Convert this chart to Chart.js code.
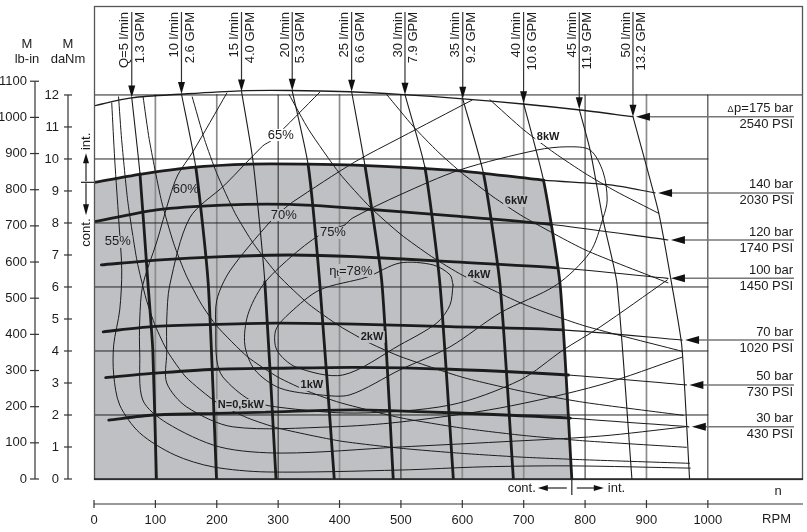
<!DOCTYPE html>
<html><head><meta charset="utf-8">
<script src="https://cdn.jsdelivr.net/npm/chart.js@4/dist/chart.umd.min.js"></script>
<style>html,body{margin:0;padding:0;background:#fff}canvas{display:block}</style>
</head><body>
<canvas id="c" width="807" height="532"></canvas>
<script>
// ---- tick labels / grids ----
const xTicks=[0,100,200,300,400,500,600,700,800,900,1000];
const yTicksDaNm=[0,1,2,3,4,5,6,7,8,9,10,11,12];
const yTicksLbIn=[0,100,200,300,400,500,600,700,800,900,1000,1100];
const gridDaNm=[2,4,6,8,10,12];
const gridRpmGray=[100,200,400,600,700,900];
const gridRpmBlack=[300,500,800,1000];

// ---- constant flow lines Q (RPM, daNm) ----
const flowLpm=[5,10,15,20,25,30,35,40,45,50];
const flowGpm=['1.3','2.6','4.0','5.3','6.6','7.9','9.2','10.6','11.9','13.2'];
const q5=[[61.5,11.92],[74.9,9.53],[88.1,6.06],[95.8,4.03],[101.7,0]];
const q10=[[142.5,12.03],[166,9.72],[186,6.13],[199.6,0]];
const q15=[[240.3,12.11],[259.2,9.91],[278.3,6.16],[296.5,0]];
const q20=[[322.9,12.13],[348.9,9.81],[368,6.06],[391.4,0]];
const q25=[[419.7,12.1],[441.8,9.75],[469,6.13],[487.5,0]];
const q30=[[506.6,12.01],[539.2,9.72],[563.7,6.06],[585.4,0]];
const q35=[[600.7,11.88],[634.3,9.56],[661.5,6.06],[683.2,0]];
const q40=[[699.8,11.74],[732.2,9.34],[759.4,6.06],[778.4,0]];
const q45=[[790.5,11.55],[808.2,10.28],[829.4,8.09],[851.8,6.13],[876.3,0]];
const q50=[[878,11.32],[919.6,8.35],[941.4,6.06],[957.7,4.13],[970.2,0]];

// ---- constant pressure lines ----
const pressureBar=[175,140,120,100,70,50,30];
const pressurePsi=[2540,2030,1740,1450,1020,730,430];
const p175=[[0,11.66],[61,11.91],[145,12.03],[238,12.13],[319,12.14],[417,12.1],[498,12.02],[601,11.88],[703,11.71],[792,11.53],[878,11.32]];
const p140=[[0,9.27],[74.5,9.52],[156,9.73],[254,9.84],[346,9.84],[425,9.81],[596,9.63],[732.2,9.34],[841,9.19],[914,8.94]];
const p120=[[1,8.04],[102,8.41],[210,8.56],[319,8.58],[425,8.46],[580,8.23],[743,7.96],[935,7.47]];
const p100=[[12,6.69],[102,6.84],[210,6.95],[319,7.0],[425,6.95],[580,6.79],[754,6.6],[935,6.27]];
const p70=[[15,4.6],[94,4.76],[200,4.83],[297,4.87],[425,4.84],[580,4.76],[764,4.66],[958,4.34]];
const p50=[[19,3.17],[94,3.3],[200,3.43],[297,3.46],[425,3.49],[580,3.43],[773,3.25],[965,2.94]];
const p30=[[24,1.84],[96,2.0],[200,2.05],[297,2.1],[425,2.16],[580,2.07],[776,1.9],[969,1.63]];

// ---- total efficiency contours ----
const effNames=['55%','60%','65%','70%','75%','78%'];
const eff55=[[28.9,11.75],[33.8,9.97],[40.3,8.09],[45.2,6.53],[41.9,5.28],[32.1,4.19],[32.1,3.25],[41.9,2.31],[74.5,1.44],[131.6,0.75],[193.5,0.38],[281.6,0.22],[498.4,0.28],[633.8,0.38],[775.6,0.41],[971.4,0.34]];
const eff60=[[216.4,12.06],[160.9,10.22],[136.5,9.5],[123.4,8.81],[102.2,7.41],[79.4,6.06],[74.5,4.97],[74.5,3.94],[79.4,2.47],[118.6,1.75],[204.9,1.0],[307.7,0.81],[498.4,1.0],[661.5,1.16],[824.5,1.34],[963.3,1.63]];
const eff65=[[368,12.09],[289.7,10.59],[275.1,10.41],[213.1,9.19],[156,8.16],[123.4,6.06],[118.5,4.97],[118.5,3.94],[118.5,3.0],[151.1,2.25],[226.2,1.63],[389.2,1.63],[498.4,1.78],[661.5,2.22],[824.5,2.94],[958.4,3.81]];
const eff70=[[615.9,11.84],[498.4,10.66],[425.1,9.91],[324,8.66],[307.7,8.41],[286.5,8.03],[221.3,6.5],[200,5.59],[198.4,4.66],[200,3.72],[209.8,3.19],[253.9,2.47],[297.9,2.25],[425.1,2.06],[580,2.31],[694.1,3.09],[764.2,4.03],[824.5,4.75],[933.9,6.22]];
const eff75=[[408.8,7.94],[368,7.63],[319.1,6.91],[275.1,6.06],[250.6,5.13],[245.7,4.19],[262,3.41],[302.8,2.84],[368,2.63],[416.9,2.63],[498.4,3.41],[580,4.13],[661.5,5.19],[752.8,6.06],[808.2,7.09],[829.4,8.16],[836,8.72],[829.4,9.59],[808.2,10.28],[770.7,10.38],[721.8,10.28],[596.3,9.66],[498.4,8.88],[421.8,8.16],[408.8,7.94]];
const eff78=[[584.9,6.06],[580,5.44],[558.8,4.88],[498.4,4.19],[405.5,3.25],[328.9,3.5],[297.9,4.03],[296.2,4.66],[319.1,5.19],[368,5.91],[444.6,6.31],[498.4,6.75],[552.3,6.69],[580,6.38],[584.9,6.06]];

// ---- output power lines ----
const powerNames=['N=0,5kW','1kW','2kW','4kW','6kW','8kW'];
const pw05=[[40,11.94],[45,10.61],[55,8.68],[70,6.82],[85,5.62],[100,4.78],[120,3.98],[150,3.18],[200,2.39],[250,1.91],[300,1.59],[400,1.19],[500,0.96],[600,0.8],[700,0.68],[800,0.6],[970,0.49]];
const pw1=[[80,11.94],[90,10.61],[110,8.68],[130,7.35],[150,6.37],[175,5.46],[200,4.78],[250,3.82],[300,3.18],[350,2.73],[400,2.39],[500,1.91],[600,1.59],[700,1.36],[800,1.19],[965,0.99]];
const pw2=[[160,11.94],[180,10.61],[200,9.55],[230,8.3],[260,7.35],[300,6.37],[350,5.46],[400,4.78],[450,4.24],[500,3.82],[600,3.18],[700,2.73],[800,2.39],[960,1.99]];
const pw4=[[318,12.01],[350,10.91],[400,9.55],[450,8.49],[500,7.64],[550,6.95],[600,6.37],[700,5.46],[800,4.78],[958,3.99]];
const pw6=[[477,12.01],[520,11.02],[560,10.23],[600,9.55],[650,8.82],[700,8.19],[800,7.16],[935,6.13]];
const pw8=[[645,11.85],[700,10.91],[750,10.19],[800,9.55],[850,8.99],[920,8.3]];

// label anchors (RPM, daNm) and backgrounds
const effLabelAt=[[38.8,7.41],[149.5,9.06],[304.4,10.75],[309.3,8.25],[389.2,7.69],[418.6,6.5]];
const effLabelBg=['g','n','w','g','g','g'];
const powerLabelAt=[[239.3,2.31],[354.9,2.94],[452.9,4.44],[627.3,6.38],[687.6,8.69],[739.8,10.69]];
const powerLabelBg=['g','g','g','g','g','w'];

// ---- layout constants ----
const RPM_MAX=1155, DANM_MAX=14.78, LBIN_PER_DANM=88.5;
const GRAY='#bfc0c4', INK='#1c1c1c';
const FONT='"Liberation Sans", Arial, sans-serif';

const toXY=a=>a.map(([x,y])=>({x,y}));
const base={showLine:true,pointRadius:0,pointHoverRadius:0,fill:false,borderColor:INK,tension:0.3,borderCapStyle:'round',borderJoinStyle:'round'};
const datasets=[];

// gray continuous-duty region
const contTop=p140.filter(p=>p[0]<=q40[1][0]);
const contSide=q40.filter(p=>p[1]<q40[1][1]);
datasets.push({...base,data:toXY([...contTop,...contSide]),fill:'origin',backgroundColor:GRAY,borderWidth:0,tension:0,order:30});

// grid
gridDaNm.forEach(v=>datasets.push({...base,tension:0,data:[{x:0,y:v},{x:v===12?RPM_MAX:1000,y:v}],borderWidth:1,borderColor:'#222',order:25}));
gridRpmGray.forEach(v=>datasets.push({...base,tension:0,data:[{x:v,y:0},{x:v,y:12}],borderWidth:1.7,borderColor:'#8c8c8c',order:26}));
gridRpmBlack.forEach(v=>datasets.push({...base,tension:0,data:[{x:v,y:0},{x:v,y:12}],borderWidth:1,borderColor:'#222',order:24}));

// thin curves
[eff55,eff60,eff65,eff70,eff75,eff78].forEach(a=>datasets.push({...base,data:toXY(a),borderWidth:1,order:10}));
[pw05,pw1,pw2,pw4,pw6,pw8].forEach(a=>datasets.push({...base,data:toXY(a),borderWidth:1,order:10,tension:0.2}));

// pressure lines
datasets.push({...base,data:toXY(p175),borderWidth:1.3,order:5});
[p140,p120,p100,p70,p50,p30].forEach(a=>datasets.push({...base,data:toXY(a),borderWidth:2.8,order:3,tension:0.25,
  segment:{borderWidth:c=>c.p0.parsed.x<700?2.8:1.1}}));
// flow lines
const flowLines=[q5,q10,q15,q20,q25,q30,q35,q40,q45,q50];
flowLines.forEach((a,i)=>datasets.push({...base,data:toXY(a),borderWidth:2.8,order:2,tension:0.2,
  segment:{borderWidth:c=>(i<8&&c.p0.parsed.y<9.9)?2.8:1.1}}));

const overlay={
  id:'overlay',
  afterDatasetsDraw(chart){
    const ctx=chart.ctx, a=chart.chartArea, xs=chart.scales.x, ys=chart.scales.y, y2=chart.scales.y2;
    const X=v=>xs.getPixelForValue(v), Y=v=>ys.getPixelForValue(v);
    const seg=(x1,y1,x2,y2_,col,w)=>{ctx.strokeStyle=col;ctx.lineWidth=w;ctx.beginPath();ctx.moveTo(x1,y1);ctx.lineTo(x2,y2_);ctx.stroke();};
    const tri=(pts,col)=>{ctx.fillStyle=col;ctx.beginPath();ctx.moveTo(pts[0][0],pts[0][1]);ctx.lineTo(pts[1][0],pts[1][1]);ctx.lineTo(pts[2][0],pts[2][1]);ctx.closePath();ctx.fill();};
    const txt=(s,x,y,font,align,col)=>{ctx.font=font;ctx.textAlign=align||'center';ctx.textBaseline='middle';ctx.fillStyle=col||INK;ctx.fillText(s,x,y);};
    const vtxt=(s,x,y,font,align)=>{ctx.save();ctx.translate(x,y);ctx.rotate(-Math.PI/2);txt(s,0,0,font,align);ctx.restore();};
    const boxLabel=(s,x,y,font,bg)=>{ctx.font=font;const w=ctx.measureText(s).width;
      if(bg){ctx.fillStyle=bg;ctx.fillRect(x-w/2-1.5,y-6,w+3,12);} txt(s,x,y,font,'center');};
    ctx.save();

    // frame
    ctx.strokeStyle='#555';ctx.lineWidth=1.3;
    ctx.strokeRect(a.left+0.5,a.top+0.5,a.right-a.left-1,a.bottom-a.top);
    seg(a.left,a.bottom,a.right,a.bottom,'#222',1.3);

    // efficiency labels
    const F13='13px '+FONT, FB='bold 11px '+FONT;
    effNames.forEach((n,i)=>{
      const [vx,vy]=effLabelAt[i]; const bg=effLabelBg[i]==='g'?GRAY:(effLabelBg[i]==='w'?'#fff':null);
      if(i===5){
        ctx.font=F13; const w1=ctx.measureText('\u03b7').width, w3=ctx.measureText('=78%').width;
        ctx.font='9px '+FONT; const w2=ctx.measureText('t').width;
        const W=w1+w2+w3, x0=X(vx)-W/2, y=Y(vy);
        ctx.fillStyle=bg; ctx.fillRect(x0-1.5,y-7,W+3,13);
        txt('\u03b7',x0,y,F13,'left'); txt('t',x0+w1,y+3,'9px '+FONT,'left'); txt('=78%',x0+w1+w2,y,F13,'left');
      } else boxLabel(n,X(vx),Y(vy),F13,bg);
    });
    powerNames.forEach((n,i)=>{const [vx,vy]=powerLabelAt[i];boxLabel(n,X(vx),Y(vy),FB,powerLabelBg[i]==='g'?GRAY:'#fff');});

    // flow arrows and labels
    flowLines.forEach((q,i)=>{
      const tx=X(q[0][0]), ty=Y(q[0][1]);
      seg(tx,a.top+6,tx,ty-10,'#333',1.2);
      tri([[tx,ty],[tx-3.5,ty-12],[tx+3.5,ty-12]],'#111');
      vtxt((i===0?'Q=':'')+flowLpm[i]+' l/min',tx-7,a.top+6,F13,'right');
      vtxt(flowGpm[i]+' GPM',tx+8.5,a.top+6,F13,'right');
    });

    // pressure arrows & labels
    [p175,p140,p120,p100,p70,p50,p30].forEach((p,i)=>{
      const e=p[p.length-1]; const tx=X(e[0])+3, ty=Y(e[1]);
      seg(tx+12,ty,a.right-9,ty,'#777',1.5);
      tri([[tx,ty],[tx+14,ty-4],[tx+14,ty+4]],'#111');
      const rx=a.right-10;
      if(i===0){ctx.font=F13;const w=ctx.measureText('p=175 bar').width;
        txt('p=175 bar',rx,ty-8,F13,'right'); txt('\u0394',rx-w-0.5,ty-7,'9px '+FONT,'right');}
      else txt(pressureBar[i]+' bar',rx,ty-8,F13,'right');
      txt(pressurePsi[i]+' PSI',rx,ty+8,F13,'right');
    });

    // left axes
    const ax1=a.left-26, ax2=a.left-59;
    seg(ax1,Y(0),ax1,Y(12),'#333',1.2);
    yTicksDaNm.forEach(v=>{const y=Y(v);seg(ax1-4,y,ax1+4,y,'#333',1.2);txt(String(v),ax1-9,y,F13,'right');});
    const Y2=v=>y2.getPixelForValue(v);
    seg(ax2,Y2(0),ax2,Y2(1100),'#333',1.2);
    yTicksLbIn.forEach(v=>{const y=Y2(v);seg(ax2-5,y,ax2+4,y,'#333',1.2);txt(String(v),ax2-8,y,F13,'right');});
    txt('M',ax2-8,44,F13);txt('lb-in',ax2-8,59,F13);
    txt('M',ax1,44,F13);txt('daNm',ax1,59,F13);

    // int / cont markers (left)
    const mx=a.left-8, my=Y(p140[0][1]);
    vtxt('int.',mx,Y(10.55),F13,'center');
    seg(mx,my-1,mx,my-26,'#222',1.2); tri([[mx,my-29],[mx-3,my-19],[mx+3,my-19]],'#111');
    seg(a.left-13,my,a.left,my,'#222',1.2);
    seg(mx,my+1,mx,my+24,'#222',1.2); tri([[mx,my+33],[mx-3,my+22],[mx+3,my+22]],'#111');
    vtxt('cont.',mx,Y(7.7),F13,'center');

    // x axis
    const axy=a.bottom+25;
    seg(a.left,axy,a.right,axy,'#333',1.2);
    xTicks.forEach(v=>{const x=X(v);seg(x,axy-4,x,axy+4,'#333',1.2);txt(String(v),x,axy+16,F13,'center');});
    txt('RPM',a.right-12,axy+15,F13,'right');
    txt('n',a.right-25,axy-13,F13,'center');

    // cont / int marker (bottom)
    const cx=X(q40[q40.length-1][0]), cy=a.bottom+9;
    seg(cx,a.bottom,cx,a.bottom+16,'#222',1.2);
    seg(cx-5,cy,cx-26,cy,'#222',1.2); tri([[cx-34,cy],[cx-24,cy-3],[cx-24,cy+3]],'#111');
    txt('cont.',cx-36,cy,F13,'right');
    seg(cx+5,cy,cx+24,cy,'#222',1.2); tri([[cx+32,cy],[cx+22,cy-3],[cx+22,cy+3]],'#111');
    txt('int.',cx+36,cy,F13,'left');
    ctx.restore();
  }
};

new Chart(document.getElementById('c'),{
  type:'scatter',
  data:{datasets},
  options:{
    responsive:false,animation:false,devicePixelRatio:1,
    layout:{padding:{left:94,right:4,top:6,bottom:53}},
    plugins:{legend:{display:false},tooltip:{enabled:false}},
    scales:{
      x:{type:'linear',min:0,max:RPM_MAX,display:false},
      y:{type:'linear',min:0,max:DANM_MAX,display:false},
      y2:{type:'linear',position:'left',min:0,max:DANM_MAX*LBIN_PER_DANM,display:false}
    }
  },
  plugins:[overlay]
});
</script>
</body></html>
